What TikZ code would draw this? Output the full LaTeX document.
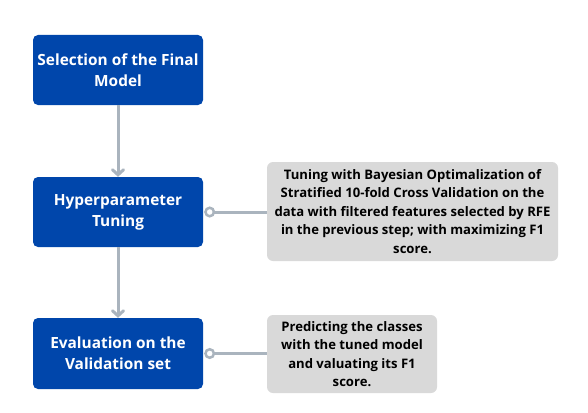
\documentclass[tikz,border=0pt]{standalone}
\usepackage{fontspec}
\setmainfont{Open Sans}
\usepackage{tikz}
\usetikzlibrary{arrows.meta,positioning}
\definecolor{stageblue}{RGB}{0,70,171}
\definecolor{notegray}{RGB}{217,217,217}
\definecolor{linkgray}{RGB}{170,180,190}
\tikzset{%
	stage/.style = {draw=none, fill=stageblue, text=white, rectangle, rounded corners=5pt, minimum width=170pt, minimum height=70pt, align=center, font=\fontsize{15.4}{21}\selectfont\bfseries, inner sep=0pt},
	note/.style  = {draw=none, fill=notegray, text=black, rectangle, rounded corners=6pt, align=center, font=\fontsize{13.1}{18.5}\selectfont\bfseries, inner sep=0pt},
	arrow/.style = {linkgray, line width=3pt, -{Straight Barb[length=5pt,width=11pt,line cap=round]}},
	link/.style  = {linkgray, line width=3pt, {Circle[open,fill=white,length=11pt,width=11pt,line width=2.5pt]}-, shorten <=1pt},
}

\begin{document}
\begin{tikzpicture}[x=1pt,y=-1pt]
	
	\useasboundingbox (0,0) rectangle (588,412);
	
	% main steps
	\node[stage] (select) at (118,70) {Selection of the Final\\Model};
	\node[stage] (tuning) at (118,212) {Hyperparameter\\Tuning};
	\node[stage, minimum height=71pt] (eval) at (118,353.5) {Evaluation on the\\Validation set};
	
	% notes
	\node[note, minimum width=291pt, minimum height=99pt] (tunenote) at (412.5,211.5) {Tuning with Bayesian Optimalization of\\Stratified 10-fold Cross Validation on the\\data with filtered features selected by RFE\\in the previous step; with maximizing F1\\score.};
	\node[note, minimum width=170pt, minimum height=78pt] (evalnote) at (352,354) {Predicting the classes\\with the tuned model\\and valuating its F1\\score.};
	
	\draw[arrow] (select) -- (tuning);
	\draw[arrow] (tuning) -- (eval);
	
	\draw[link] (tuning.east) -- (tunenote.west |- tuning.east);
	\draw[link] (eval.east) -- (evalnote.west |- eval.east);
	
\end{tikzpicture}
\end{document}
